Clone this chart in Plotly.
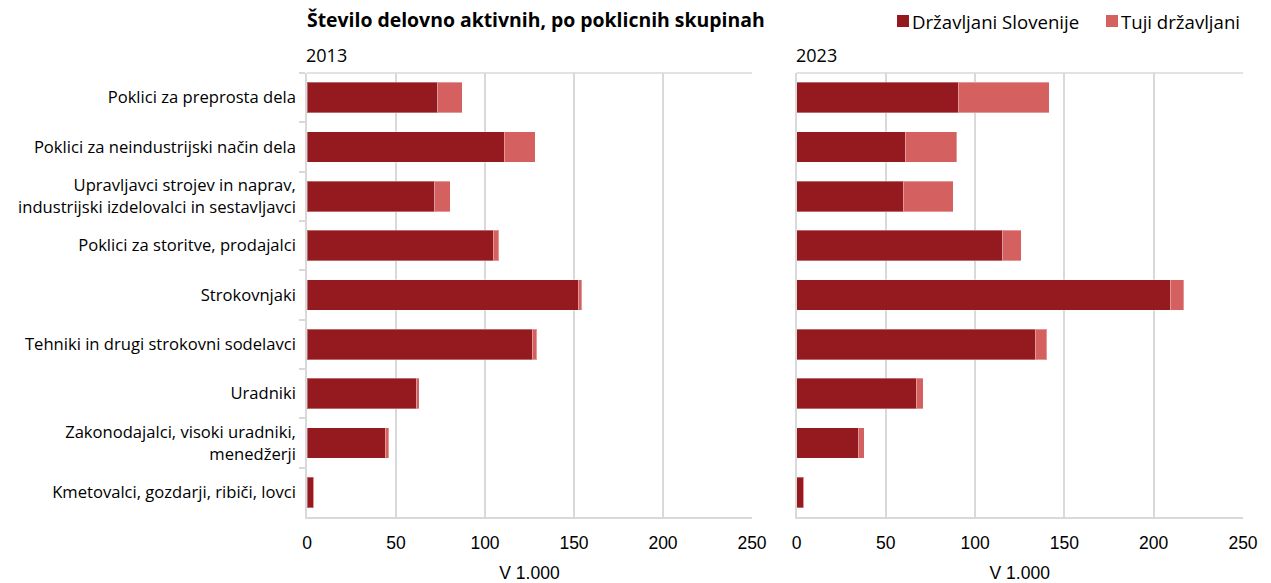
import plotly.graph_objects as go
from plotly.subplots import make_subplots

categories = [
    "Poklici za preprosta dela",
    "Poklici za neindustrijski način dela",
    "Upravljavci strojev in naprav,<br>industrijski izdelovalci in sestavljavci",
    "Poklici za storitve, prodajalci",
    "Strokovnjaki",
    "Tehniki in drugi strokovni sodelavci",
    "Uradniki",
    "Zakonodajalci, visoki uradniki,<br>menedžerji",
    "Kmetovalci, gozdarji, ribiči, lovci",
]
slo_2013 = [73.5, 110.8, 71.8, 104.6, 152.3, 126.6, 61.7, 43.9, 3.4]
tuji_2013 = [13.7, 17.4, 8.8, 3.0, 2.0, 2.6, 1.3, 2.1, 0.5]
slo_2023 = [90.6, 61.0, 59.9, 115.5, 209.4, 133.7, 67.1, 34.8, 3.7]
tuji_2023 = [50.9, 28.8, 27.9, 10.4, 7.3, 6.4, 3.8, 3.1, 0.3]
x_ticks = [0, 50, 100, 150, 200, 250]
series_names = ["Državljani Slovenije", "Tuji državljani"]
panel_titles = ["2013", "2023"]
axis_title = "V 1.000"

DARK = "#951A1F"
LIGHT = "#D56060"
GRID = "#D9D9D9"
FONT = "Open Sans"
NUMFONT = "Liberation Sans"

W, H = 1271, 583
ML, MR, MT, MB = 307, 28, 73, 66
PW, PH = W - ML - MR, H - MT - MB


def px(xp):
    return (xp - ML) / PW


def py(yp):
    return (H - MB - yp) / PH


fig = make_subplots(rows=1, cols=2, shared_yaxes=False)

for col, (slo, tuji) in enumerate([(slo_2013, tuji_2013), (slo_2023, tuji_2023)], start=1):
    fig.add_trace(go.Bar(
        y=categories, x=slo, orientation="h", name=series_names[0],
        marker=dict(color=DARK, line=dict(color="rgba(255,255,255,0.35)", width=1)),
        showlegend=False,
    ), row=1, col=col)
    fig.add_trace(go.Bar(
        y=categories, x=tuji, orientation="h", name=series_names[1],
        marker=dict(color=LIGHT, line=dict(color="rgba(255,255,255,0.35)", width=1)),
        showlegend=False,
    ), row=1, col=col)

fig.update_layout(
    width=W, height=H, autosize=False,
    barmode="stack", bargap=0.38,
    plot_bgcolor="white", paper_bgcolor="white",
    margin=dict(l=ML, r=MR, t=MT, b=MB),
    font=dict(family=FONT, size=16, color="#000000"),
    showlegend=False,
    title=dict(
        text="<b>Število delovno aktivnih, po poklicnih skupinah</b>",
        x=0, xref="paper", xanchor="left",
        y=1 - 20 / H, yref="container", yanchor="middle",
        font=dict(family=FONT, size=19.4, color="#000000"),
    ),
)

fig.update_layout(xaxis=dict(domain=[0, px(752)]), xaxis2=dict(domain=[px(796.5), 1]))

for ax in ["xaxis", "xaxis2"]:
    fig.layout[ax].update(
        range=[0, 250], tickvals=x_ticks, showgrid=True, gridcolor=GRID, gridwidth=1.5,
        showline=True, linecolor=GRID, linewidth=1.5, zeroline=False,
        ticks="", ticklabelstandoff=9, automargin=False,
        tickfont=dict(size=17.5, family=NUMFONT, color="#000000"),
        title=dict(text=axis_title, standoff=18, font=dict(size=17.5, family=NUMFONT, color="#000000")),
    )

fig.layout["yaxis"].update(
    categoryorder="array", categoryarray=categories, autorange="reversed",
    showline=True, linecolor=GRID, linewidth=1.5, showgrid=False,
    ticks="outside", tickson="boundaries", ticklen=6, tickcolor=GRID, tickwidth=1.5,
    ticklabelstandoff=6, automargin=False,
    tickfont=dict(size=16.6, family=FONT, color="#000000"),
)
fig.layout["yaxis2"].update(
    categoryorder="array", categoryarray=categories, autorange="reversed",
    showline=True, linecolor=GRID, linewidth=1.5, showgrid=False,
    showticklabels=False, ticks="", automargin=False,
)

# top border lines of each panel
for xref, yref in [("x domain", "y domain"), ("x2 domain", "y2 domain")]:
    fig.add_shape(type="line", xref=xref, yref=yref, x0=0, x1=1, y0=1, y1=1,
                  line=dict(color=GRID, width=1.5))

# panel titles
for title, xpos in zip(panel_titles, [px(304), px(794)]):
    fig.add_annotation(text=title, x=xpos, xref="paper", xanchor="left",
                       y=py(55), yref="paper", yanchor="middle", showarrow=False,
                       font=dict(size=18, family=FONT, color="#000000"))

# custom legend
legend_items = [(series_names[0], DARK, 897), (series_names[1], LIGHT, 1106)]
for name, color, x0 in legend_items:
    fig.add_shape(type="rect", xref="paper", yref="paper",
                  x0=px(x0), x1=px(x0 + 12), y0=py(27), y1=py(15),
                  fillcolor=color, line=dict(width=0))
    fig.add_annotation(text=name, x=px(x0 + 13), xref="paper", xanchor="left",
                       y=py(21), yref="paper", yanchor="middle", showarrow=False,
                       font=dict(size=18.6, family=FONT, color="#000000"))

fig.write_html("out.html", config={"displayModeBar": False},
               post_script="document.body.style.margin='0';")
